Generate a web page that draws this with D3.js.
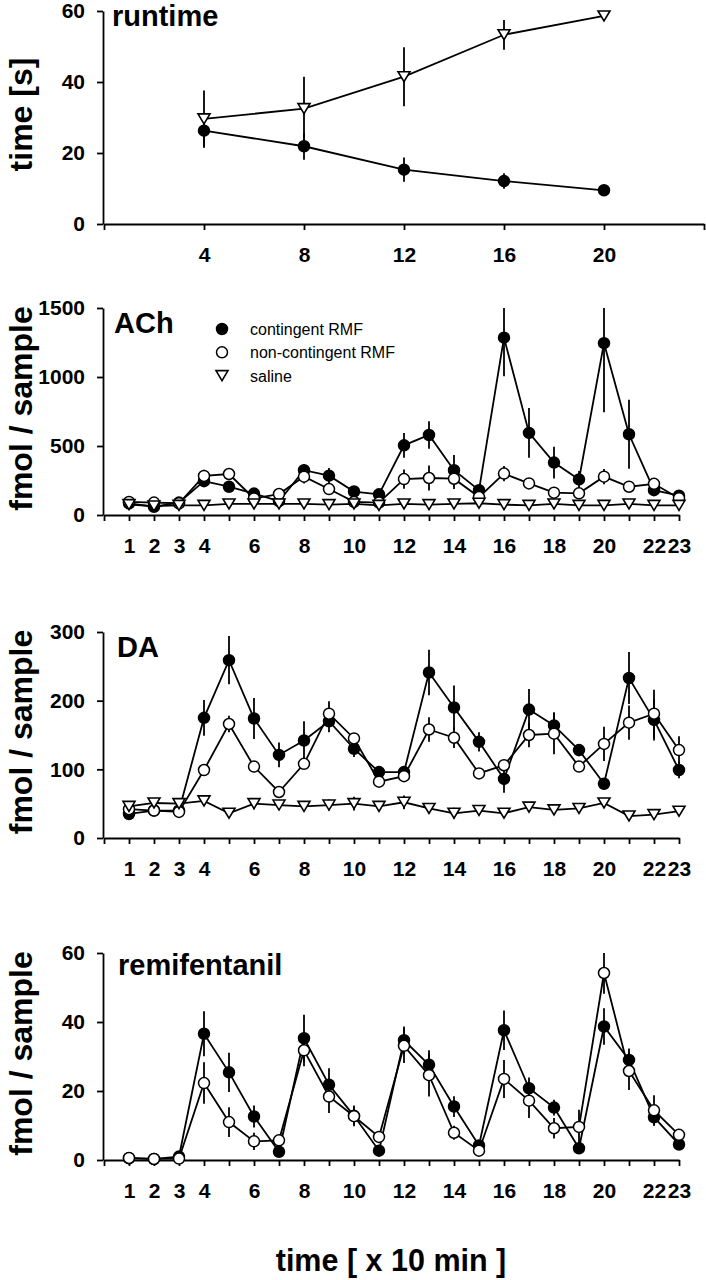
<!DOCTYPE html>
<html>
<head>
<meta charset="utf-8">
<script src="https://cdn.jsdelivr.net/npm/d3@7"></script>
<style>
  html, body { margin: 0; padding: 0; background: #fff; }
  svg { display: block; }
  text { font-family: "Liberation Sans", Arial, Helvetica, sans-serif; }
</style>
</head>
<body>
<svg id="chart" width="706" height="1280"></svg>
<script>
// ---------- DATA ----------
const runtimeX = [4, 8, 12, 16, 20];
const runtimeContingent = [26.3, 21.9, 15.3, 12.1, 9.5];
const runtimeContingentErr = [4.8, 3.8, 3.4, 2.2, 0.8];
const runtimeSaline = [29.6, 32.5, 41.5, 53.3, 58.6];
const runtimeSalineErr = [8, 9, 8.3, 4.2, 0.5];
const runtimeTicks = [0, 4, 8, 12, 16, 20, 24];
const runtimeTickLabels = [4, 8, 12, 16, 20];

const sampleX = d3.range(1, 24);
const sampleTicks = d3.range(0, 24);
const sampleTickLabels = [1, 2, 3, 4, 6, 8, 10, 12, 14, 16, 18, 20, 22, 23];

const achContingent = [85, 60, 90, 245, 205, 155, 100, 325, 285, 170, 150, 505, 580, 325, 180, 1285, 595, 380, 258, 1245, 585, 180, 140];
const achContingentErr = [15, 10, 15, 40, 30, 20, 15, 45, 55, 25, 20, 90, 100, 110, 30, 280, 180, 115, 60, 500, 250, 30, 20];
const achNonContingent = [95, 90, 85, 283, 297, 120, 152, 278, 188, 95, 90, 260, 268, 263, 130, 300, 229, 162, 157, 278, 205, 226, 122];
const achNonContingentErr = [10, 10, 10, 45, 40, 20, 25, 50, 40, 15, 15, 70, 90, 75, 20, 55, 35, 30, 30, 55, 30, 30, 20];
const achSaline = [75, 65, 70, 70, 80, 80, 80, 80, 75, 80, 70, 80, 75, 80, 85, 75, 70, 80, 70, 70, 80, 70, 70];
const achSalineErr = [10, 10, 10, 10, 10, 10, 10, 10, 10, 10, 10, 10, 10, 10, 10, 10, 10, 10, 10, 10, 10, 10, 10];
const achTicks = [0, 500, 1000, 1500];

const daContingent = [35, 40, 40, 175, 259, 174, 121, 142, 170, 130, 96, 96, 241, 190, 140, 86, 187, 164, 128, 79, 233, 172, 99];
const daContingentErr = [5, 5, 5, 26, 35, 30, 18, 28, 16, 12, 8, 8, 33, 32, 14, 20, 30, 19, 9, 8, 38, 30, 12];
const daNonContingent = [42, 40, 38, 99, 166, 104, 67, 108, 181, 145, 82, 90, 158, 146, 94, 106, 150, 152, 104, 137, 168, 181, 128];
const daNonContingentErr = [5, 5, 5, 8, 12, 8, 6, 8, 18, 8, 6, 6, 18, 15, 6, 8, 18, 30, 8, 25, 25, 35, 20];
const daSaline = [46, 51, 50, 54, 36, 50, 48, 46, 48, 50, 46, 52, 43, 36, 40, 36, 45, 41, 43, 51, 32, 34, 39];
const daSalineErr = [4, 4, 4, 6, 5, 8, 6, 6, 8, 10, 6, 10, 5, 8, 6, 5, 6, 6, 6, 6, 5, 5, 6];
const daTicks = [0, 100, 200, 300];

const remiContingent = [0.5, 0.3, 1.0, 36.6, 25.4, 12.6, 2.4, 35.3, 21.8, 12.8, 2.7, 34.7, 27.6, 15.5, 4.2, 37.6, 20.8, 15.2, 3.4, 38.7, 29.0, 12.4, 4.5];
const remiContingentErr = [0.5, 0.5, 0.8, 6.5, 5.7, 3.2, 1, 6.8, 4.8, 3, 1, 4, 4.2, 3, 1.5, 5.7, 3.1, 2.3, 1, 5.3, 3.3, 2.5, 1];
const remiNonContingent = [0.6, 0.3, 0.4, 22.3, 11, 5.4, 5.7, 31.8, 18.4, 12.7, 6.7, 33.1, 24.6, 7.9, 2.7, 23.5, 17.2, 9.2, 9.6, 54.2, 25.8, 14.4, 7.3];
const remiNonContingentErr = [0.8, 1, 1, 6, 4.3, 2.5, 1, 4.6, 4.8, 2.5, 1.5, 5, 6.2, 2, 0.5, 5.5, 5, 3, 5, 6, 5.5, 4.4, 1];
const remiTicks = [0, 20, 40, 60];

const legendLabels = ["contingent RMF", "non-contingent RMF", "saline"];

// ---------- DRAW ----------
const svg = d3.select("#chart");
svg.append("rect").attr("width", 706).attr("height", 1280).attr("fill", "#fff");

const X0 = 104;
const SW = 1.8;

function series(x, y, e, type) { return { x, y, e, type }; }

function drawPanel(cfg) {
  const g = svg.append("g");
  const xs = d3.scaleLinear().domain(cfg.xDomain).range(cfg.xRange);
  const ys = d3.scaleLinear().domain([0, cfg.yMax]).range([cfg.bottom, cfg.top]);

  const yAxis = d3.axisLeft(ys).tickValues(cfg.yTicks).tickSize(6).tickSizeOuter(0).tickPadding(12)
    .tickFormat(d3.format("d"));
  const ya = g.append("g").attr("transform", `translate(${X0 - 1},0)`).call(yAxis);
  const xAxis = d3.axisBottom(xs).tickValues(cfg.xTicks).tickSize(6).tickSizeOuter(0).tickPadding(17)
    .tickFormat(d => cfg.xLabels.includes(d) ? d : "");
  const xa = g.append("g").attr("transform", `translate(0,${cfg.bottom})`).call(xAxis);
  [ya, xa].forEach(a => {
    a.selectAll("path.domain").attr("stroke", "#000").attr("stroke-width", SW);
    a.selectAll(".tick line").attr("stroke", "#000").attr("stroke-width", SW);
    a.selectAll(".tick text").attr("fill", "#000").attr("font-size", 21).attr("font-weight", "bold")
      .style("font-family", '"Liberation Sans", Arial, sans-serif');
  });

  g.append("text")
    .attr("transform", `translate(21,${(cfg.top + cfg.bottom) / 2 - 3}) rotate(-90)`)
    .attr("text-anchor", "middle").attr("dominant-baseline", "central")
    .attr("font-size", 32).attr("font-weight", "bold").text(cfg.yTitle);
  g.append("text").attr("x", cfg.labelX).attr("y", cfg.labelY)
    .attr("font-size", 29).attr("font-weight", "bold").text(cfg.label);

  const line = d3.line().x(d => xs(d[0])).y(d => ys(d[1]));

  cfg.series.forEach(s => {
    const pts = s.x.map((xv, i) => [xv, s.y[i], s.e[i]]);
    const sg = g.append("g");
    sg.append("path").datum(pts).attr("d", line).attr("fill", "none")
      .attr("stroke", "#000").attr("stroke-width", SW);
    sg.selectAll("line.err").data(pts).join("line").attr("class", "err")
      .attr("x1", d => xs(d[0])).attr("x2", d => xs(d[0]))
      .attr("y1", d => ys(Math.min(cfg.yMax, d[1] + d[2])))
      .attr("y2", d => ys(Math.max(0, d[1] - d[2])))
      .attr("stroke", "#000").attr("stroke-width", SW);
    drawMarkers(sg, pts.map(d => [xs(d[0]), ys(d[1])]), s.type);
  });
  return { xs, ys, g };
}

function drawMarkers(sel, pts, type) {
  if (type === "tri") {
    sel.selectAll("path.mk").data(pts).join("path").attr("class", "mk")
      .attr("d", d => `M${d[0] - 6},${d[1] - 5}L${d[0] + 6},${d[1] - 5}L${d[0]},${d[1] + 5}Z`)
      .attr("fill", "#fff").attr("stroke", "#000").attr("stroke-width", 1.6);
  } else {
    sel.selectAll("circle.mk").data(pts).join("circle").attr("class", "mk")
      .attr("cx", d => d[0]).attr("cy", d => d[1]).attr("r", 5.5)
      .attr("fill", type === "filled" ? "#000" : "#fff").attr("stroke", "#000").attr("stroke-width", 1.5);
  }
}

// Panel 1: runtime
drawPanel({
  top: 11, bottom: 224, yMax: 60, yTicks: [0, 20, 40, 60],
  xDomain: [0, 24], xRange: [X0, 704], xTicks: runtimeTicks, xLabels: runtimeTickLabels,
  yTitle: "time [s]", label: "runtime", labelX: 112, labelY: 26,
  series: [
    series(runtimeX, runtimeContingent, runtimeContingentErr, "filled"),
    series(runtimeX, runtimeSaline, runtimeSalineErr, "tri")
  ]
});

// Panel 2: ACh
drawPanel({
  top: 308, bottom: 515, yMax: 1500, yTicks: achTicks,
  xDomain: [0, 23], xRange: [X0, 679], xTicks: sampleTicks, xLabels: sampleTickLabels,
  yTitle: "fmol / sample", label: "ACh", labelX: 114, labelY: 333,
  series: [
    series(sampleX, achContingent, achContingentErr, "filled"),
    series(sampleX, achNonContingent, achNonContingentErr, "open"),
    series(sampleX, achSaline, achSalineErr, "tri")
  ]
});

// Legend
const legendTypes = ["filled", "open", "tri"];
const lg = svg.append("g");
legendLabels.forEach((lab, i) => {
  const cy = 329 + i * 23.3;
  drawMarkers(lg.append("g"), [[222, cy]], legendTypes[i]);
  lg.append("text").attr("x", 250).attr("y", cy + 6).attr("font-size", 16).text(lab);
});

// Panel 3: DA
drawPanel({
  top: 632, bottom: 838, yMax: 300, yTicks: daTicks,
  xDomain: [0, 23], xRange: [X0, 679], xTicks: sampleTicks, xLabels: sampleTickLabels,
  yTitle: "fmol / sample", label: "DA", labelX: 117, labelY: 657,
  series: [
    series(sampleX, daContingent, daContingentErr, "filled"),
    series(sampleX, daNonContingent, daNonContingentErr, "open"),
    series(sampleX, daSaline, daSalineErr, "tri")
  ]
});

// Panel 4: remifentanil
drawPanel({
  top: 953, bottom: 1160, yMax: 60, yTicks: remiTicks,
  xDomain: [0, 23], xRange: [X0, 679], xTicks: sampleTicks, xLabels: sampleTickLabels,
  yTitle: "fmol / sample", label: "remifentanil", labelX: 118, labelY: 975,
  series: [
    series(sampleX, remiContingent, remiContingentErr, "filled"),
    series(sampleX, remiNonContingent, remiNonContingentErr, "open")
  ]
});

// Bottom x title
svg.append("text").attr("x", 391).attr("y", 1271).attr("text-anchor", "middle")
  .attr("font-size", 30.5).attr("font-weight", "bold").text("time [ x 10 min ]");
</script>
</body>
</html>
